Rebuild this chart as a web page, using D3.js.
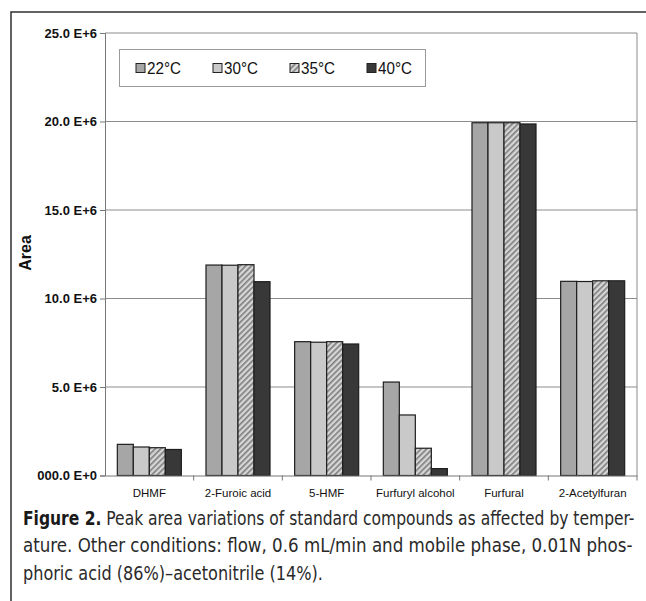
<!DOCTYPE html>
<html>
<head>
<meta charset="utf-8">
<script src="https://cdn.jsdelivr.net/npm/d3@7/dist/d3.min.js"></script>
<style>
  html, body { margin: 0; padding: 0; background: #fff; }
  svg { display: block; }
</style>
</head>
<body>
<script>
// Peak areas of standard compounds at four column temperatures
const categories = ["DHMF", "2-Furoic acid", "5-HMF", "Furfuryl alcohol", "Furfural", "2-Acetylfuran"];
const series = ["22°C", "30°C", "35°C", "40°C"];
const area22 = [1.76e6, 11.89e6, 7.56e6, 5.28e6, 19.93e6, 10.97e6];
const area30 = [1.61e6, 11.88e6, 7.53e6, 3.42e6, 19.93e6, 10.96e6];
const area35 = [1.57e6, 11.91e6, 7.56e6, 1.54e6, 19.93e6, 11.00e6];
const area40 = [1.47e6, 10.95e6, 7.43e6, 0.39e6, 19.86e6, 11.00e6];
const yTicks = [0, 5e6, 10e6, 15e6, 20e6, 25e6];
const yLabels = ["000.0 E+0", "5.0 E+6", "10.0 E+6", "15.0 E+6", "20.0 E+6", "25.0 E+6"];
const captionLines = [
  "Peak area variations of standard compounds as affected by temper-",
  "ature. Other conditions: flow, 0.6 mL/min and mobile phase, 0.01N phos-",
  "phoric acid (86%)\u2013acetonitrile (14%)."
];

const values = [area22, area30, area35, area40];
const W = 646, H = 601;
const plot = { left: 105, right: 637, top: 33, bottom: 475.5 };
const sans = "'Liberation Sans', Arial, sans-serif";

const svg = d3.select("body").append("svg").attr("width", W).attr("height", H);
const defs = svg.append("defs");

// hatch for 35°C
const hatch = defs.append("pattern").attr("id", "hatch35")
  .attr("patternUnits", "userSpaceOnUse").attr("width", 4).attr("height", 4)
  .attr("patternTransform", "rotate(-45)");
hatch.append("rect").attr("width", 4).attr("height", 4).attr("fill", "#d6d6d6");
hatch.append("rect").attr("width", 4).attr("height", 1.6).attr("fill", "#7c7c7c");

const fills = ["#a6a6a6", "#c9c9c9", "url(#hatch35)", "#383838"];

// outer frame
svg.append("rect").attr("x", 11).attr("y", 12).attr("width", 700).attr("height", 700)
  .attr("fill", "none").attr("stroke", "#3c3c3c").attr("stroke-width", 1.6);

const x0 = d3.scaleBand().domain(categories).range([plot.left, plot.right]).padding(0);
const x1 = d3.scaleBand().domain(series).range([0, x0.bandwidth()]).paddingInner(0).paddingOuter(0.77);
const y = d3.scaleLinear().domain([0, 25e6]).range([plot.bottom, plot.top]);

// gridlines
svg.append("g").selectAll("line").data(yTicks.slice(1)).join("line")
  .attr("x1", plot.left).attr("x2", plot.right)
  .attr("y1", d => y(d)).attr("y2", d => y(d))
  .attr("stroke", "#8c8c8c").attr("stroke-width", 1);

// plot border (right side)
svg.append("line").attr("x1", plot.right).attr("x2", plot.right)
  .attr("y1", plot.top).attr("y2", plot.bottom)
  .attr("stroke", "#8c8c8c").attr("stroke-width", 1);

// y axis
const yAxis = d3.axisLeft(y).tickValues(yTicks).tickSize(5).tickPadding(3)
  .tickFormat((d, i) => yLabels[i]);
const gy = svg.append("g").attr("transform", `translate(${plot.left},0)`).call(yAxis);
gy.attr("font-size", null).attr("font-family", null);
gy.select(".domain").attr("stroke", "#777");
gy.selectAll(".tick line").attr("stroke", "#777");
gy.selectAll(".tick text").attr("fill", "#111")
  .style("font-family", sans).style("font-size", "13px").style("font-weight", "bold");

// bars
const groups = svg.append("g").selectAll("g").data(categories).join("g")
  .attr("transform", d => `translate(${x0(d)},0)`);
groups.selectAll("rect").data((c, ci) => series.map((s, si) => ({ s, si, v: values[si][ci] })))
  .join("rect")
  .attr("x", d => x1(d.s))
  .attr("width", x1.bandwidth())
  .attr("y", d => y(d.v))
  .attr("height", d => y(0) - y(d.v))
  .attr("fill", d => fills[d.si])
  .attr("stroke", "#1e1e1e").attr("stroke-width", 1.2);

// x axis
const xAxis = d3.axisBottom(x0).tickSize(0).tickPadding(13);
const gx = svg.append("g").attr("transform", `translate(0,${plot.bottom})`).call(xAxis);
gx.attr("font-size", null).attr("font-family", null);
gx.select(".domain").attr("stroke", "#777");
gx.selectAll(".tick text").attr("fill", "#111")
  .style("font-family", sans).style("font-size", "11.5px");
// category separators below the axis
svg.append("g").selectAll("line").data(categories.slice(1)).join("line")
  .attr("x1", d => x0(d)).attr("x2", d => x0(d))
  .attr("y1", plot.bottom).attr("y2", plot.bottom + 5)
  .attr("stroke", "#777");
svg.append("line").attr("x1", plot.right).attr("x2", plot.right)
  .attr("y1", plot.bottom).attr("y2", plot.bottom + 5).attr("stroke", "#777");

// y label
svg.append("text").attr("transform", "translate(31,253) rotate(-90)")
  .attr("text-anchor", "middle").attr("fill", "#111")
  .style("font-family", sans).style("font-size", "16px").style("font-weight", "bold").text("Area");

// legend
const lg = svg.append("g");
lg.append("rect").attr("x", 119.5).attr("y", 49.5).attr("width", 306).attr("height", 37)
  .attr("fill", "#fff").attr("stroke", "#9a9a9a");
const legendX = d3.scalePoint().domain(series).range([136, 367]);
const items = lg.selectAll("g").data(series).join("g")
  .attr("transform", d => `translate(${legendX(d)},68)`);
items.append("rect").attr("x", 0).attr("y", -4.5).attr("width", 9).attr("height", 9)
  .attr("fill", (d, i) => fills[i]).attr("stroke", "#222");
items.append("text").attr("x", 0).attr("y", 0).attr("fill", "#111")
  .style("font-family", sans).style("font-size", "17px").text(d => d)
  .attr("transform", function () {
    const s = 34 / this.getComputedTextLength();
    return `translate(11,6) scale(${s},1)`;
  });

// caption: lines narrowed horizontally to fill their measure
const capFont = "'DejaVu Sans Condensed', 'Liberation Sans Narrow', 'Open Sans', sans-serif";
const cap = svg.append("g").attr("fill", "#2a2a2a")
  .style("font-family", capFont).style("font-size", "20px");
const capSpec = [
  { y: 525, w: 612 },
  { y: 552, w: 610 },
  { y: 580, w: 300 }
];
capSpec.forEach((c, i) => {
  const t = cap.append("text").attr("x", 0).attr("y", 0);
  if (i === 0) {
    t.append("tspan").style("font-weight", "bold").attr("fill", "#1a1a1a").text("Figure 2.");
    t.append("tspan").text(" " + captionLines[0]);
  } else {
    t.text(captionLines[i]);
  }
  const s = c.w / t.node().getComputedTextLength();
  t.attr("transform", `translate(23,${c.y}) scale(${s},1)`);
});
</script>
</body>
</html>
